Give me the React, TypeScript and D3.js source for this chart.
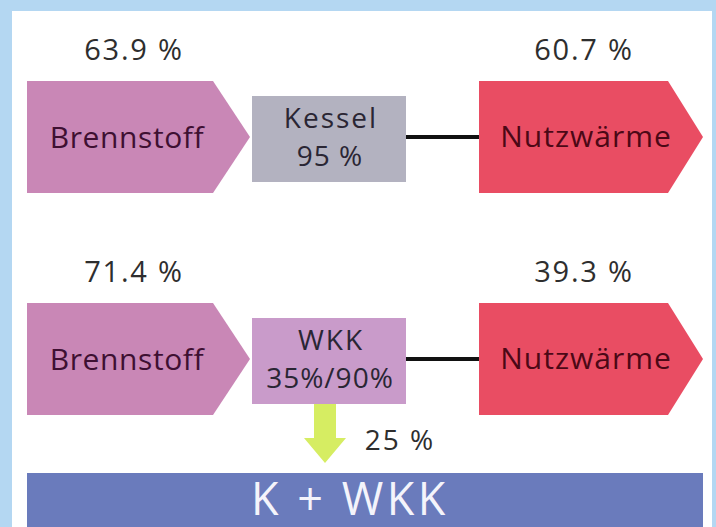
import React from "react";
import * as d3 from "d3";

// ---- data ----
const converters = ["Kessel", "WKK"];
const converterEfficiency = ["95 %", "35%/90%"];
const fuelShare = [63.9, 71.4];
const heatShare = [60.7, 39.3];
const electricShare = [25];
const inputLabel = "Brennstoff";
const outputLabel = "Nutzwärme";
const totalLabel = "K + WKK";

const W = 716;
const H = 527;
const FONT = "'Open Sans', 'Noto Sans', sans-serif";

const COLORS = {
  bg: "#b4d7f2",
  panel: "#ffffff",
  fuel: "#c987b6",
  heat: "#e94d63",
  boxes: ["#b3b2c0", "#c99bca"],
  power: "#d6ed62",
  total: "#6a7bbc",
  fuelText: "#3e1032",
  heatText: "#4c0816",
  boxText: "#2a2634",
  pct: "#2e2e2e",
};

const pct = (v: number) => `${v.toFixed(1)} %`;

export default function App() {
  const y = d3.scalePoint<string>().domain(converters).range([137, 359]);
  const x = d3
    .scaleOrdinal<string, number>()
    .domain(["inStart", "inShoulder", "inTip", "boxL", "boxR", "outStart", "outShoulder", "outTip"])
    .range([27, 213, 250, 252, 406, 479, 668, 703]);

  const arrowHalf = 56;
  const boxHalf = 43;
  const line = d3.line<[number, number]>();

  const arrow = (x0: number, xs: number, xt: number, cy: number) =>
    line([
      [x0, cy - arrowHalf],
      [xs, cy - arrowHalf],
      [xt, cy],
      [xs, cy + arrowHalf],
      [x0, cy + arrowHalf],
    ]) + "Z";

  const kkY = y("WKK")! + boxHalf;
  const gx = (x("boxL") + x("boxR")) / 2 - 4;

  return (
    <svg
      width={W}
      height={H}
      style={{ position: "absolute", left: 0, top: 0, display: "block" }}
      fontFamily={FONT}
    >
      <rect x={0} y={0} width={W} height={H} fill={COLORS.bg} />
      <rect x={12} y={11} width={700} height={H - 11} fill={COLORS.panel} />

      {converters.map((c, i) => {
        const cy = y(c)!;
        const bcy = cy + 2;
        return (
          <g key={c}>
            {/* fuel arrow */}
            <path d={arrow(x("inStart"), x("inShoulder"), x("inTip"), cy)} fill={COLORS.fuel} />
            <text
              x={127}
              y={cy + 11}
              textAnchor="middle"
              fontSize={30}
              letterSpacing={0.6}
              fill={COLORS.fuelText}
            >
              {inputLabel}
            </text>
            <text
              x={134}
              y={cy - 77}
              textAnchor="middle"
              fontSize={29}
              letterSpacing={1.8}
              fill={COLORS.pct}
            >
              {pct(fuelShare[i])}
            </text>

            {/* converter box */}
            <rect
              x={x("boxL")}
              y={bcy - boxHalf}
              width={x("boxR") - x("boxL")}
              height={boxHalf * 2}
              fill={COLORS.boxes[i]}
            />
            <text
              x={(x("boxL") + x("boxR")) / 2 + 2}
              y={bcy - 11}
              textAnchor="middle"
              fontSize={28}
              letterSpacing={2}
              fill={COLORS.boxText}
            >
              {c}
            </text>
            <text
              x={(x("boxL") + x("boxR")) / 2 + 1}
              y={bcy + 27}
              textAnchor="middle"
              fontSize={28}
              letterSpacing={1}
              fill={COLORS.boxText}
            >
              {converterEfficiency[i]}
            </text>

            {/* connector */}
            <line
              x1={x("boxR")}
              x2={x("outStart")}
              y1={cy}
              y2={cy}
              stroke="#111"
              strokeWidth={4}
            />

            {/* heat arrow */}
            <path d={arrow(x("outStart"), x("outShoulder"), x("outTip"), cy)} fill={COLORS.heat} />
            <text
              x={586}
              y={cy + 10}
              textAnchor="middle"
              fontSize={30}
              letterSpacing={1}
              fill={COLORS.heatText}
            >
              {outputLabel}
            </text>
            <text
              x={584}
              y={cy - 77}
              textAnchor="middle"
              fontSize={29}
              letterSpacing={1.8}
              fill={COLORS.pct}
            >
              {pct(heatShare[i])}
            </text>
          </g>
        );
      })}

      {/* power arrow */}
      <path
        d={
          line([
            [gx - 11, kkY + 2],
            [gx + 11, kkY + 2],
            [gx + 11, kkY + 36],
            [gx + 21, kkY + 36],
            [gx, kkY + 61],
            [gx - 21, kkY + 36],
            [gx - 11, kkY + 36],
          ]) + "Z"
        }
        fill={COLORS.power}
      />
      <text x={400} y={450} textAnchor="middle" fontSize={28} letterSpacing={2} fill={COLORS.pct}>
        {`${electricShare[0]} %`}
      </text>

      {/* total bar */}
      <rect x={27} y={473} width={676} height={H - 473} fill={COLORS.total} />
      <text x={350} y={515} textAnchor="middle" fontSize={45} letterSpacing={3.5} fill="#f4f4fb">
        {totalLabel}
      </text>
    </svg>
  );
}
